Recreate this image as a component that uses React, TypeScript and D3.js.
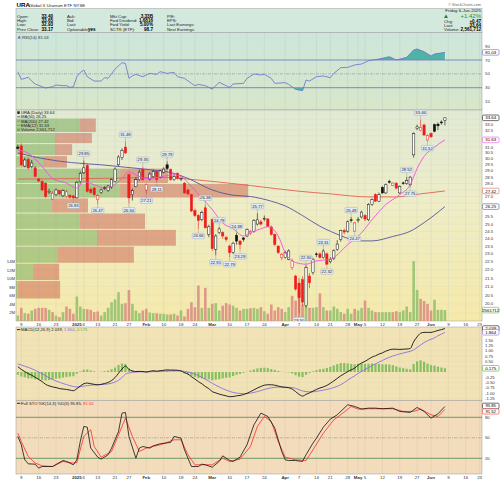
import React from "react";
import * as d3 from "d3";

const FONT = "'Liberation Sans', Arial, Helvetica, sans-serif";

// trading-day index 0 = 6 Dec 2024 ... 123 = 6 Jun 2025
const opens = [31.0, 31.1, 29.4, 29.95, 29.35, 29.25, 28.35, 28.15, 28.0, 27.3,
  26.8, 27.15, 27.45, 27.05, 27.0, 27.1, 27.05, 26.9, 28.15, 28.85,
  29.45, 27.55, 27.65, 26.76, 27.3, 27.7, 27.45, 27.7, 28.15, 29.5,
  30.1, 31.0, 28.7, 27.15, 27.75, 28.3, 29.1, 27.5, 28.35, 28.55,
  28.95, 28.5, 28.9, 29.5, 29.1, 28.3, 28.8, 28.35, 28.03, 27.5,
  27.14, 25.95, 25.6, 25.32, 26.16, 24.29, 25.32, 23.3, 24.41, 24.41,
  24.07, 23.51, 23.1, 24.22, 23.84, 24.05, 24.18, 24.35, 24.5, 25.0,
  25.15, 25.4, 25.36, 24.8, 24.29, 23.51, 22.77, 22.77, 22.66, 22.14,
  21.62, 21.2, 21.4, 19.9, 21.62, 21.83, 23.0, 23.0, 22.77, 23.0,
  22.5, 22.7, 23.3, 23.95, 24.55, 24.51, 25.3, 24.51, 25.3, 25.5,
  25.6, 25.3, 26.4, 27.14, 26.65, 27.7, 27.27, 28.15, 27.85, 28.03,
  27.27, 28.05, 28.0, 27.9, 30.33, 32.65, 32.5, 32.97, 31.62, 32.2,
  33.0, 33.05, 33.25, 33.4];
const highs = [31.2, 31.3, 30.1, 30.1, 29.9, 29.4, 28.45, 28.3, 28.1, 27.6,
  27.4, 27.6, 27.5, 27.55, 27.5, 27.15, 27.1, 28.2, 28.95, 29.85,
  29.6, 27.7, 27.75, 27.15, 27.6, 27.8, 27.9, 28.4, 29.3, 30.3,
  30.9, 31.48, 28.8, 27.6, 28.5, 29.1, 29.35, 28.0, 28.9, 29.1,
  29.0, 29.1, 29.3, 29.79, 29.2, 28.7, 28.9, 28.5, 28.1, 27.6,
  27.2, 26.1, 25.7, 25.95, 26.38, 24.95, 25.4, 24.3, 24.79, 24.5,
  24.2, 23.6, 23.8, 24.38, 23.9, 24.1, 24.7, 24.6, 25.35, 25.77,
  25.3, 25.6, 25.4, 24.9, 24.35, 23.55, 23.05, 23.2, 23.3, 22.7,
  21.7, 21.5, 21.6, 22.3, 21.8, 22.75, 23.1, 23.1, 23.31, 23.1,
  22.8, 23.3, 23.9, 24.6, 24.7, 25.25, 25.49, 25.15, 25.5, 25.95,
  25.7, 26.5, 26.85, 27.25, 27.3, 27.8, 28.0, 28.3, 28.1, 28.1,
  27.85, 28.15, 28.52, 28.6, 32.3, 33.0, 33.46, 33.1, 32.1, 32.3,
  33.1, 33.2, 33.4, 33.65];
const lows = [30.8, 29.4, 29.3, 29.1, 29.2, 28.5, 28.1, 27.4, 26.9, 27.2,
  26.75, 27.05, 27.1, 26.95, 26.9, 26.85, 26.83, 26.85, 28.0, 28.75,
  27.3, 27.2, 27.0, 26.47, 27.2, 27.5, 27.35, 27.6, 28.1, 29.4,
  29.9, 30.4, 26.5, 26.7, 27.7, 28.2, 28.2, 27.21, 28.25, 28.4,
  28.11, 28.4, 28.8, 29.1, 28.2, 28.2, 28.3, 28.2, 27.2, 27.1,
  25.85, 25.5, 24.66, 25.2, 24.7, 24.1, 23.2, 22.91, 24.3, 24.0,
  23.8, 22.79, 23.0, 23.6, 23.29, 23.8, 24.1, 24.25, 24.4, 24.9,
  24.9, 25.2, 24.8, 24.2, 23.5, 23.0, 22.6, 22.7, 22.6, 22.0,
  20.75, 19.5, 19.9, 19.8, 20.9, 21.7, 22.8, 22.7, 22.7, 22.32,
  22.4, 22.6, 23.2, 23.8, 24.3, 24.4, 25.1, 24.47, 25.1, 25.4,
  25.2, 25.2, 26.3, 26.6, 26.6, 27.2, 27.2, 28.0, 27.8, 27.55,
  27.2, 27.9, 27.9, 27.75, 30.1, 32.5, 32.4, 32.0, 31.52, 31.8,
  32.3, 32.5, 33.0, 32.93];
const closes = [30.9, 29.5, 29.9, 29.25, 29.65, 28.56, 28.2, 27.5, 27.0, 27.4,
  27.25, 27.5, 27.2, 27.45, 27.35, 26.95, 26.9, 28.1, 28.8, 29.25,
  27.4, 27.3, 27.14, 27.06, 27.5, 27.6, 27.8, 28.3, 29.15, 30.15,
  30.7, 30.5, 26.9, 27.45, 28.3, 28.9, 28.3, 27.9, 28.75, 28.95,
  28.3, 29.0, 29.15, 29.2, 28.3, 28.55, 28.4, 28.4, 27.27, 27.2,
  25.93, 25.6, 25.25, 25.82, 24.74, 24.81, 23.34, 24.18, 24.67, 24.18,
  23.95, 23.08, 23.7, 23.84, 23.62, 23.95, 24.63, 24.5, 25.25, 25.3,
  25.0, 25.4, 24.85, 24.29, 23.62, 23.08, 22.98, 23.08, 23.19, 22.55,
  20.85, 20.35, 20.1, 22.14, 21.22, 22.66, 22.95, 22.77, 23.19, 22.35,
  22.66, 23.2, 23.64, 24.56, 24.45, 25.16, 25.27, 25.08, 25.32, 25.85,
  25.35, 26.4, 26.76, 26.65, 27.14, 27.27, 27.9, 28.1, 28.03, 27.64,
  27.77, 28.0, 28.22, 28.5, 32.18, 32.8, 32.75, 32.06, 32.0, 31.9,
  32.4, 32.9, 33.17, 33.64];
// volume in millions of shares
const volumesM = [1.3, 3.1, 1.84, 1.69, 2.47, 2.86, 3.1, 3.1, 3.1, 2.63,
  2.08, 1.29, 0.9, 2.08, 3.41, 2.86, 1.69, 5.76, 3.41, 2.86,
  2.78, 2.63, 2.08, 2.24, 1.29, 2.08, 3.1, 4.43, 5.1, 6.78,
  4.04, 4.2, 7.3, 4.04, 2.47, 1.84, 2.47, 2.86, 2.0, 1.84,
  1.84, 1.69, 1.69, 1.53, 1.53, 1.69, 1.29, 2.47, 1.06, 2.86,
  4.43, 3.25, 8.35, 3.1, 7.8, 3.1, 4.04, 4.2, 2.47, 3.6,
  4.2, 3.88, 3.6, 3.1, 2.47, 2.86, 2.86, 3.0, 3.1, 2.86,
  3.25, 2.3, 1.69, 3.88, 2.47, 3.25, 2.86, 2.08, 3.25, 5.92,
  4.8, 6.78, 3.88, 4.8, 3.1, 3.1, 3.25, 6.5, 3.25, 2.47,
  2.47, 3.41, 2.86, 2.08, 1.69, 2.86, 1.69, 2.86, 2.47, 3.1,
  4.8, 3.1, 2.47, 2.08, 2.08, 2.08, 2.08, 2.08, 2.08, 2.3,
  2.08, 2.47, 3.41, 2.08, 14.1, 7.3, 5.2, 4.7, 4.04, 2.47,
  5.0, 2.63, 2.63, 2.56];

const ma50Days = [0, 5, 12, 19, 24, 31, 38, 45, 49, 56, 62, 67, 73, 77, 82, 87, 90, 93, 96, 99, 102, 108, 113, 117, 119, 123];
const ma50Values = [30.5, 30.15, 29.8, 29.6, 29.5, 29.3, 29.1, 28.8, 28.4, 27.5, 27.1, 27.0, 26.65, 26.3, 25.6, 24.85, 24.5, 24.2, 23.95, 23.85, 23.85, 24.15, 24.5, 25.1, 25.45, 26.25];
const ma200Days = [0, 24, 43, 49, 67, 81, 90, 101, 109, 116, 123];
const ma200Values = [28.35, 28.4, 28.48, 28.35, 27.84, 27.4, 27.2, 26.97, 26.97, 27.2, 27.42];
const ema12Days = [0, 3, 7, 10, 14, 17, 19, 22, 25, 27, 30, 32, 34, 37, 40, 45, 47, 50, 53, 56, 59, 62, 65, 67, 70, 72, 75, 77, 80, 83, 86, 90, 95, 99, 102, 106, 110, 113, 115, 117, 120, 123];
const ema12Values = [30.75, 30.47, 29.36, 28.39, 28.03, 27.65, 28.16, 27.9, 27.65, 27.77, 28.39, 28.94, 28.69, 28.39, 28.47, 28.69, 28.56, 27.77, 26.89, 26.03, 25.08, 24.67, 24.18, 24.41, 24.67, 24.81, 24.18, 23.08, 22.45, 22.35, 22.55, 22.66, 23.6, 24.4, 25.3, 26.4, 27.14, 27.9, 29.2, 30.2, 31.0, 31.63];

const rsiDays = [0, 1, 3, 4, 5, 7, 8, 10, 11, 13, 14, 15, 16, 17, 18, 19, 20, 22, 24, 25, 26, 28, 30, 31, 32, 33, 34, 36, 38, 40, 41, 43, 45, 46, 48, 50, 51, 52, 54, 56, 58, 61, 62, 65, 66, 68, 70, 71, 73, 74, 77, 78, 80, 82, 83, 84, 86, 88, 90, 91, 93, 95, 97, 99, 101, 104, 107, 109, 112, 114, 115, 117, 119, 120, 123];
const rsiValues = [53, 42, 45, 39.6, 35.3, 31.4, 29.5, 31.4, 33.9, 32.9, 33, 30.5, 31.4, 45.9, 52, 55.5, 45.9, 39.6, 39.6, 44.5, 43.5, 57, 66.1, 65, 43.5, 47.3, 49.3, 45.9, 50.7, 49.3, 53.1, 50.7, 52.2, 45.9, 43.5, 36.3, 32.9, 34.8, 32.9, 28.1, 37.7, 30.5, 35.3, 36.3, 43.5, 49.8, 48.4, 49.3, 43.5, 36.3, 37.3, 34.8, 27.6, 25.7, 41.1, 39.6, 45.9, 46.9, 44.5, 50.7, 58.9, 59.4, 62.8, 64.2, 69, 71.4, 74.8, 70, 73.9, 84.5, 85.9, 82, 75.8, 78.7, 81.03];

const macdValues = [0.25, 0.12, 0.02, -0.08, -0.15, -0.25, -0.35, -0.45, -0.58, -0.65,
  -0.7, -0.73, -0.78, -0.8, -0.82, -0.85, -0.88, -0.78, -0.66, -0.55,
  -0.52, -0.55, -0.58, -0.6, -0.58, -0.54, -0.49, -0.4, -0.26, -0.06,
  0.14, 0.28, 0.12, 0.05, 0.02, 0.03, 0.02, 0.0, 0.03, 0.06,
  0.04, 0.06, 0.08, 0.1, 0.09, 0.09, 0.08, 0.05, -0.03, -0.1,
  -0.22, -0.33, -0.45, -0.55, -0.68, -0.78, -0.92, -0.98, -1.04, -1.08,
  -1.12, -1.16, -1.15, -1.12, -1.1, -1.06, -1.0, -0.92, -0.84, -0.75,
  -0.68, -0.62, -0.6, -0.6, -0.62, -0.66, -0.7, -0.72, -0.74, -0.8,
  -0.92, -1.05, -1.13, -1.05, -0.98, -0.9, -0.82, -0.75, -0.7, -0.63,
  -0.53, -0.42, -0.3, -0.18, -0.08, 0.02, 0.1, 0.18, 0.32, 0.42,
  0.5, 0.6, 0.7, 0.76, 0.84, 0.9, 0.98, 1.04, 1.07, 1.07,
  1.06, 1.07, 1.08, 1.1, 1.42, 1.65, 1.82, 1.86, 1.86, 1.86,
  1.9, 1.95, 1.99, 2.039];
const signalValues = [0.38, 0.33, 0.27, 0.22, 0.15, 0.09, 0.0, -0.08, -0.18, -0.27,
  -0.35, -0.42, -0.48, -0.54, -0.59, -0.64, -0.68, -0.7, -0.69, -0.66,
  -0.64, -0.62, -0.61, -0.6, -0.59, -0.58, -0.56, -0.53, -0.47, -0.39,
  -0.26, -0.1, -0.05, -0.02, 0.0, 0.01, 0.01, 0.01, 0.01, 0.02,
  0.02, 0.03, 0.04, 0.05, 0.06, 0.06, 0.06, 0.05, 0.03, 0.0,
  -0.04, -0.1, -0.17, -0.25, -0.34, -0.43, -0.53, -0.62, -0.7, -0.78,
  -0.85, -0.91, -0.96, -0.99, -1.01, -1.02, -1.01, -0.99, -0.96, -0.92,
  -0.87, -0.82, -0.78, -0.74, -0.72, -0.71, -0.71, -0.71, -0.72, -0.73,
  -0.77, -0.83, -0.89, -0.92, -0.93, -0.93, -0.91, -0.88, -0.85, -0.82,
  -0.78, -0.73, -0.67, -0.6, -0.5, -0.38, -0.28, -0.18, -0.07, 0.03,
  0.12, 0.21, 0.3, 0.38, 0.46, 0.54, 0.62, 0.69, 0.75, 0.8,
  0.85, 0.89, 0.93, 0.97, 1.04, 1.15, 1.27, 1.38, 1.47, 1.54,
  1.6, 1.7, 1.78, 1.864];

const stochKDays = [0, 1, 2, 3, 5, 6, 7, 10, 13, 14, 16, 17, 18, 19, 20, 21, 23, 24, 26, 27, 29, 30, 31, 32, 34, 35, 36, 38, 39, 41, 44, 45, 47, 48, 50, 52, 53, 54, 56, 58, 59, 61, 62, 64, 66, 68, 70, 72, 74, 76, 77, 78, 80, 82, 83, 85, 86, 88, 90, 92, 95, 97, 99, 101, 103, 105, 108, 110, 113, 115, 117, 119, 121, 123];
const stochKValues = [52, 39.8, 17.8, 11.9, 11.4, 5.6, 8, 8, 16.8, 15.4, 10.5, 17.8, 45, 66.6, 65.6, 34.9, 21.7, 18.8, 25.1, 34.9, 59.3, 86.1, 87.1, 52, 20.2, 34.9, 37.3, 34.9, 38.3, 41.2, 43.2, 52, 49.5, 32.4, 8, 8, 11.4, 10.5, 7, 15.4, 23.6, 16.8, 15.4, 21.7, 39.8, 69, 86.1, 81.2, 64.2, 30, 17.8, 16.8, 16.8, 15.4, 25.1, 42.2, 49.5, 65.6, 77.3, 83.7, 98.3, 95.9, 92, 93.4, 93.4, 92.5, 93.4, 88.6, 87.1, 94.4, 88.6, 78.8, 85.1, 95.85];
const stochDDays = [0, 1, 3, 5, 7, 10, 13, 16, 17, 19, 21, 22, 24, 27, 29, 31, 33, 35, 37, 41, 45, 47, 49, 51, 56, 59, 61, 64, 67, 69, 71, 73, 75, 77, 80, 83, 85, 88, 91, 93, 96, 98, 101, 108, 111, 114, 116, 119, 121, 123];
const stochDValues = [56.8, 44.6, 22.7, 13, 9, 8, 15.4, 13, 13.9, 52, 61.7, 37.3, 21.7, 30, 54.4, 78.8, 52, 30, 34.9, 39.8, 47.1, 47.1, 25.1, 10.5, 10.5, 20.2, 15.4, 18.8, 37.3, 66.6, 81.2, 73.9, 44.6, 21.7, 17.8, 16.8, 32.4, 56.8, 76.3, 83.7, 95.9, 92, 92.5, 92.5, 88.6, 88.6, 92, 83.7, 81.2, 91.52];

// volume-by-price zones (price edges) with up / down volume (millions)
const vbpEdges = [33.62, 32.29, 31.3, 30.27, 29.23, 28.0, 26.89, 25.78, 24.63, 23.5, 22.41, 21.35, 20.28];
const vbpUpM = [21.3, 13, 13, 9, 34.7, 34.7, 12, 21.3, 27, 14, 5.7, 0.7];
const vbpDownM = [5.3, 12.3, 5.7, 8, 16, 42.7, 12, 21.7, 26.3, 25.3, 8.7, 14];

const annotDays = [16, 19, 23, 31, 32, 36, 37, 40, 43, 52, 54, 57, 58, 61, 63, 64, 69, 81, 83, 88, 89, 96, 97, 112, 113, 116, 118];
const annotValues = [26.83, 29.85, 26.47, 31.48, 26.5, 29.35, 27.21, 28.11, 29.79, 24.66, 26.38, 22.91, 24.79, 22.79, 24.38, 23.29, 25.77, 19.5, 22.3, 23.31, 22.32, 25.49, 24.47, 28.52, 27.75, 33.46, 31.52];
const annotKinds = ["L", "H", "L", "H", "L", "H", "L", "L", "H", "L", "H", "L", "H", "L", "H", "L", "H", "L", "H", "H", "L", "H", "L", "H", "L", "H", "L"];

const tickDays = [1, 6, 11, 17, 19, 23, 28, 32, 37, 42, 47, 51, 56, 61, 66, 71, 77, 81, 86, 90, 95, 98, 100, 105, 110, 115, 119, 124, 129, 133];
const tickLabels = ["9", "16", "23", "2025", "6", "13", "21", "27", "Feb", "10", "18", "24", "Mar", "10", "17", "24", "Apr", "7", "14", "21", "28", "May", "5", "12", "19", "27", "Jun", "9", "16", "23"];
const boldTicks = ["2025", "Feb", "Mar", "Apr", "May", "Jun"];

const priceTicks = [19.5, 20, 20.5, 21, 21.5, 22, 22.5, 23, 23.5, 24, 24.5, 25, 25.5, 26, 26.5, 27, 27.5, 28, 28.5, 29, 29.5, 30, 30.5, 31, 31.5, 32, 32.5, 33, 33.5, 34];
const volTicks = [2, 4, 6, 8, 10, 12, 14];
const rsiTicks = [90, 70, 50, 30, 10];
const macdTicks = [-1.25, -1, -0.75, -0.5, -0.25, 0, 0.25, 0.5, 0.75, 1, 1.25, 1.5];
const stochTicks = [80, 50, 20];

const L = 16, R = 482;
const P = {
  head: [8.5, 32.5], rsi: [32.5, 110], main: [110, 321], macd: [327, 400.5], sto: [400.5, 474],
};

export default function App() {
  const x = d3.scaleLinear().domain([0, 123]).range([17.83, 444.9]);
  const py = d3.scaleLog().domain([34, 19.5]).range([114, 313]);
  const vy = d3.scaleLinear().domain([0, 14]).range([321, 261.5]);
  const ry = d3.scaleLinear().domain([30, 70]).range([87.7, 60]);
  const my = d3.scaleLinear().domain([0, 1]).range([372, 350.7]);
  const sy = d3.scaleLinear().domain([20, 80]).range([458.3, 417.3]);
  const vbpX = d3.scaleLinear().domain([0, 80]).range([L, L + 240]);

  const idx = d3.range(closes.length);
  const lineOf = (days: number[], vals: number[], ys: (v: number) => number, curve: any = d3.curveMonotoneX) =>
    d3.line<number>().x((_, i) => x(days[i])).y((_, i) => ys(vals[i])).curve(curve)(vals) || "";

  const rsiLine = lineOf(rsiDays, rsiValues, ry, d3.curveLinear);
  const rsiAreaHi = d3.area<number>().x((_, i) => x(rsiDays[i])).y0(ry(70)).y1((v) => ry(v))(rsiValues) || "";
  const rsiAreaLo = d3.area<number>().x((_, i) => x(rsiDays[i])).y0(ry(30)).y1((v) => ry(v))(rsiValues) || "";

  const gridX = tickDays.map((d) => x(d)).filter((v) => v > L && v < R);

  const txt = (props: any, s: React.ReactNode) => (
    <text fontFamily={FONT} {...props}>{s}</text>
  );

  const tag = (y: number, label: string, color: string, key: string) => (
    <g key={key}>
      <rect x={482.5} y={y - 2.8} width={16.5} height={5.6} rx={1.2} fill="#fff" stroke={color} strokeWidth={0.6} />
      {txt({ x: 490.7, y: y + 1.6, fontSize: 4.4, textAnchor: "middle", fill: "#000" }, label)}
    </g>
  );
  const clear = (y: number, tagYs: number[]) => tagYs.every((t) => Math.abs(t - y) > 5);

  const panel = (key: string, y0: number, y1: number, fill: string) => (
    <rect key={key} x={L} y={y0} width={R - L} height={y1 - y0} fill={fill} stroke="#9a9a9a" strokeWidth={0.5} />
  );

  const vgrid = (y0: number, y1: number, color: string) =>
    gridX.map((gx, i) => <line key={i} x1={gx} x2={gx} y1={y0} y2={y1} stroke={color} strokeWidth={0.5} />);

  const mainTags = [py(33.64), py(31.63), py(27.42), py(26.25), vy(2.56)];
  const macdTags = [my(2.039), my(1.864), my(0.175)];
  const stoTags = [sy(95.85) - 0.5, sy(91.52) + 1.5];

  return (
    <svg width={500} height={481} style={{ position: "absolute", left: 0, top: 0, background: "#fff" }}>
      <defs>
        <linearGradient id="gMain" x1="0" y1="0" x2="0" y2="1">
          <stop offset="0" stopColor="#e1ead6" />
          <stop offset="0.45" stopColor="#eeedc6" />
          <stop offset="1" stopColor="#f6e9a9" />
        </linearGradient>
        <linearGradient id="gRsi" x1="0" y1="0" x2="0" y2="1">
          <stop offset="0" stopColor="#cde6db" />
          <stop offset="1" stopColor="#d9e6c9" />
        </linearGradient>
        <clipPath id="cMain"><rect x={L} y={P.main[0]} width={R - L} height={P.main[1] - P.main[0]} /></clipPath>
        <clipPath id="cRsiHi"><rect x={L} y={P.rsi[0]} width={R - L} height={ry(70) - P.rsi[0]} /></clipPath>
        <clipPath id="cRsiLo"><rect x={L} y={ry(30)} width={R - L} height={P.rsi[1] - ry(30)} /></clipPath>
        <clipPath id="cRsi"><rect x={L} y={P.rsi[0]} width={R - L} height={P.rsi[1] - P.rsi[0]} /></clipPath>
        <clipPath id="cMacd"><rect x={L} y={P.macd[0]} width={R - L} height={P.macd[1] - P.macd[0]} /></clipPath>
        <clipPath id="cSto"><rect x={L} y={P.sto[0]} width={R - L} height={P.sto[1] - P.sto[0]} /></clipPath>
      </defs>

      {/* title */}
      {txt({ x: 16.5, y: 7, fontSize: 6.2, fontWeight: "bold", fill: "#000" }, "URA")}
      {txt({ x: 29, y: 7, fontSize: 4.3, fill: "#222" }, "Global X Uranium ETF  NYSE")}
      {txt({ x: 481, y: 5.5, fontSize: 3.8, fill: "#666", textAnchor: "end" }, "© StockCharts.com")}

      {/* header */}
      {panel("h", P.head[0], P.head[1], "#d3e9de")}
      {[["Open:", "33.40"], ["High:", "33.65"], ["Low:", "32.93"], ["Prev Close:", "33.17"]].map((r, i) => (
        <g key={"c1" + i}>
          {txt({ x: 17, y: 17.6 + i * 4.3, fontSize: 4.3, fill: "#222" }, r[0])}
          {txt({ x: 53, y: 17.6 + i * 4.3, fontSize: 4.6, fontWeight: "bold", fill: "#000", textAnchor: "end" }, r[1])}
        </g>
      ))}
      {["Ask:", "Bid:", "Last:", "Optionable:"].map((s, i) => (
        <g key={"c2" + i}>{txt({ x: 67, y: 17.6 + i * 4.3, fontSize: 4.3, fill: "#222" }, s)}</g>
      ))}
      {txt({ x: 88, y: 30.5, fontSize: 4.6, fontWeight: "bold", fill: "#000" }, "yes")}
      {[["Mkt Cap:", "3.33B"], ["Fwd Dividend:", "1.6816"], ["Fwd Yield:", "5.00%"], ["SCTR (ETF):", "98.7"]].map((r, i) => (
        <g key={"c3" + i}>
          {txt({ x: 110, y: 17.6 + i * 4.3, fontSize: 4.3, fill: "#222" }, r[0])}
          {txt({ x: 153, y: 17.6 + i * 4.3, fontSize: 4.6, fontWeight: "bold", fill: "#000", textAnchor: "end" }, r[1])}
        </g>
      ))}
      {["P/E:", "EPS:", "Last Earnings:", "Next Earnings:"].map((s, i) => (
        <g key={"c4" + i}>{txt({ x: 167, y: 17.6 + i * 4.3, fontSize: 4.3, fill: "#222" }, s)}</g>
      ))}
      {txt({ x: 481, y: 12, fontSize: 4.4, fill: "#222", textAnchor: "end" }, "Friday  6-Jun-2025")}
      <path d="M444,18 L446,14.5 L448,18 Z" fill="#2e7d32" />
      {txt({ x: 481, y: 18, fontSize: 6, fill: "#2e8b2e", textAnchor: "end" }, "+1.42%")}
      {[["Chg:", "+0.47"], ["Last:", "33.64"], ["Volume:", "2,561,712"]].map((r, i) => (
        <g key={"rc" + i}>
          {txt({ x: 444, y: 22.5 + i * 4.4, fontSize: 4.3, fill: "#222" }, r[0])}
          {txt({ x: 481, y: 22.5 + i * 4.4, fontSize: 4.6, fontWeight: "bold", fill: "#000", textAnchor: "end" }, r[1])}
        </g>
      ))}

      {/* RSI panel */}
      {panel("rsi", P.rsi[0], P.rsi[1], "url(#gRsi)")}
      <g clipPath="url(#cRsi)">
        {vgrid(P.rsi[0], P.rsi[1], "#b9d3c6")}
        <line x1={L} x2={R} y1={ry(70)} y2={ry(70)} stroke="#6f72c4" strokeWidth={0.8} />
        <line x1={L} x2={R} y1={ry(30)} y2={ry(30)} stroke="#6f72c4" strokeWidth={0.8} />
        <line x1={L} x2={R} y1={ry(50)} y2={ry(50)} stroke="#8a8fb8" strokeWidth={0.6} strokeDasharray="3,1,1,1" />
        <path d={rsiAreaHi} fill="#3aa99f" opacity={0.85} clipPath="url(#cRsiHi)" />
        <path d={rsiAreaLo} fill="#3aa99f" opacity={0.85} clipPath="url(#cRsiLo)" />
        <path d={rsiLine} fill="none" stroke="#6a6cd0" strokeWidth={0.8} />
      </g>
      <path d="M17.5,38.5 L19.2,35.5 L20.9,38.5 Z" fill="#5b6fd0" />
      {txt({ x: 22, y: 38.6, fontSize: 4.3, fill: "#333" }, "RSI(14) 81.03")}
      {rsiTicks.filter((t) => clear(ry(t), [ry(81.03)])).map((t) => <g key={"rt" + t}>{txt({ x: 485, y: ry(t) + 1.5, fontSize: 4.3, fill: "#333" }, String(t))}</g>)}
      {tag(ry(81.03), "81.03", "#6a6cd0", "rtag")}

      {/* Main panel */}
      {panel("main", P.main[0], P.main[1], "url(#gMain)")}
      <g clipPath="url(#cMain)">
        {vgrid(P.main[0], P.main[1], "#d2d6bf")}
        {priceTicks.map((t) => <line key={"pg" + t} x1={L} x2={R} y1={py(t)} y2={py(t)} stroke="#dfdcc2" strokeWidth={0.4} />)}
        {vbpUpM.map((u, i) => {
          const y0 = py(vbpEdges[i]) + 0.5, y1 = py(vbpEdges[i + 1]) - 0.5;
          return (
            <g key={"vbp" + i}>
              <rect x={vbpX(0)} y={y0} width={vbpX(u) - vbpX(0)} height={y1 - y0} fill="#6fa84f" opacity={0.5} />
              <rect x={vbpX(u)} y={y0} width={vbpX(u + vbpDownM[i]) - vbpX(u)} height={y1 - y0} fill="#c8503f" opacity={0.45} />
            </g>
          );
        })}
        {idx.map((j) => {
          const up = j === 0 || closes[j] >= closes[j - 1];
          return <rect key={"v" + j} x={x(j) - 1.3} y={vy(volumesM[j])} width={2.6} height={vy(0) - vy(volumesM[j])}
            fill={up ? "#8fbf6c" : "#d98a82"} opacity={0.85} />;
        })}
        <path d={lineOf(ma200Days, ma200Values, py)} fill="none" stroke="#e0634f" strokeWidth={0.9} />
        <path d={lineOf(ma50Days, ma50Values, py)} fill="none" stroke="#55559c" strokeWidth={0.9} />
        {idx.map((j) => {
          const o = opens[j], c = closes[j];
          const col = j === 0 || c >= closes[j - 1] ? "#111" : "#ee1c1c";
          const hollow = c >= o;
          const top = py(Math.max(o, c)), bot = py(Math.min(o, c));
          return (
            <g key={"c" + j}>
              <line x1={x(j)} x2={x(j)} y1={py(highs[j])} y2={py(lows[j])} stroke={col} strokeWidth={0.6} />
              <rect x={x(j) - 1.15} y={top} width={2.3} height={Math.max(0.7, bot - top)}
                fill={hollow ? "#fff" : col} stroke={col} strokeWidth={0.5} />
            </g>
          );
        })}
        <path d={lineOf(ema12Days, ema12Values, py)} fill="none" stroke="#f04fe0" strokeWidth={0.9} />
        {annotDays.map((d, i) => {
          const isH = annotKinds[i] === "H";
          const yP = py(annotValues[i]);
          const by = isH ? yP - 7 : yP + 7;
          const bx = x(d);
          return (
            <g key={"a" + i}>
              <line x1={bx} x2={bx} y1={yP} y2={isH ? by + 2.7 : by - 2.7} stroke="#7d8a9a" strokeWidth={0.4} />
              <rect x={bx - 6.2} y={by - 2.7} width={12.4} height={5.4} rx={1.2} fill="#e3ecf4" stroke="#8ea0b6" strokeWidth={0.4} />
              {txt({ x: bx, y: by + 1.5, fontSize: 4.2, fill: "#222", textAnchor: "middle" }, annotValues[i].toFixed(2))}
            </g>
          );
        })}
      </g>
      {/* main legend */}
      <rect x={17.3} y={111.3} width={2.4} height={2.6} fill="#222" />
      {txt({ x: 21, y: 114, fontSize: 4.2, fill: "#222" }, "URA (Daily) 33.64")}
      <line x1={17} x2={20.3} y1={116.8} y2={116.8} stroke="#55559c" strokeWidth={0.9} />
      {txt({ x: 21, y: 118.3, fontSize: 4.2, fill: "#222" }, "MA(50) 26.25")}
      <line x1={17} x2={20.3} y1={121.1} y2={121.1} stroke="#e0634f" strokeWidth={0.9} />
      {txt({ x: 21, y: 122.6, fontSize: 4.2, fill: "#222" }, "MA(200) 27.42")}
      <line x1={17} x2={20.3} y1={125.4} y2={125.4} stroke="#f04fe0" strokeWidth={0.9} />
      {txt({ x: 21, y: 126.9, fontSize: 4.2, fill: "#222" }, "EMA(12) 31.63")}
      <rect x={17.3} y={128.5} width={2.6} height={2.6} fill="#6fa84f" />
      {txt({ x: 21, y: 131.2, fontSize: 4.2, fill: "#222" }, "Volume 2,561,712")}
      {priceTicks.filter((t) => clear(py(t), mainTags)).map((t) => <g key={"pt" + t}>{txt({ x: 485, y: py(t) + 1.5, fontSize: 4.2, fill: "#333" }, t.toFixed(1))}</g>)}
      {volTicks.map((t) => <g key={"vt" + t}>{txt({ x: 15, y: vy(t) + 1.5, fontSize: 4.2, fill: "#333", textAnchor: "end" }, t + "M")}</g>)}
      {tag(mainTags[0], "33.64", "#111", "t1")}
      {tag(mainTags[1], "31.63", "#f04fe0", "t2")}
      {tag(mainTags[2], "27.42", "#e0634f", "t3")}
      {tag(mainTags[3], "26.25", "#55559c", "t4")}
      {tag(mainTags[4], "2561712", "#6fa84f", "t5")}

      {/* x labels between main and macd */}
      {tickDays.map((d, i) => (
        <g key={"xl" + i}>{txt({ x: x(d), y: 325.8, fontSize: 4.4, fill: "#333", textAnchor: "middle", fontWeight: boldTicks.includes(tickLabels[i]) ? "bold" : "normal" }, tickLabels[i])}</g>
      ))}

      {/* MACD panel */}
      {panel("macd", P.macd[0], P.macd[1], "#f2e3b7")}
      <g clipPath="url(#cMacd)">
        {vgrid(P.macd[0], P.macd[1], "#ddd0a6")}
        {macdTicks.map((t) => <line key={"mg" + t} x1={L} x2={R} y1={my(t)} y2={my(t)} stroke="#e3d6ae" strokeWidth={0.4} />)}
        {idx.map((j) => {
          const h = macdValues[j] - signalValues[j];
          return <rect key={"h" + j} x={x(j) - 1.1} y={Math.min(my(h), my(0))} width={2.2} height={Math.abs(my(h) - my(0))} fill="#86bf5f" />;
        })}
        <path d={lineOf(idx, signalValues, my)} fill="none" stroke="#8a6fe0" strokeWidth={0.9} />
        <path d={lineOf(idx, macdValues, my)} fill="none" stroke="#111" strokeWidth={0.9} />
      </g>
      <line x1={17} x2={20.3} y1={329.6} y2={329.6} stroke="#111" strokeWidth={0.9} />
      <text fontFamily={FONT} x={21} y={331} fontSize={4.2} fill="#222">
        MACD(12,26,9) 2.039, <tspan fill="#8a6fe0">1.864</tspan>, <tspan fill="#5aa83a">0.175</tspan>
      </text>
      {macdTicks.filter((t) => clear(my(t), macdTags)).map((t) => <g key={"mt" + t}>{txt({ x: 485, y: my(t) + 1.5, fontSize: 4.2, fill: "#333" }, t.toFixed(2))}</g>)}
      {tag(macdTags[0], "2.039", "#111", "m1")}
      {tag(macdTags[1], "1.864", "#8a6fe0", "m2")}
      {tag(macdTags[2], "0.175", "#5aa83a", "m3")}

      {/* Stochastics panel */}
      {panel("sto", P.sto[0], P.sto[1], "#f2dcbc")}
      <g clipPath="url(#cSto)">
        {vgrid(P.sto[0], P.sto[1], "#dec8a6")}
        <line x1={L} x2={R} y1={sy(80)} y2={sy(80)} stroke="#4f8a4f" strokeWidth={0.8} />
        <line x1={L} x2={R} y1={sy(20)} y2={sy(20)} stroke="#4f8a4f" strokeWidth={0.8} />
        <line x1={L} x2={R} y1={sy(50)} y2={sy(50)} stroke="#8f9a88" strokeWidth={0.6} strokeDasharray="3,1,1,1" />
        <path d={lineOf(stochDDays, stochDValues, sy, d3.curveLinear)} fill="none" stroke="#ff2a2a" strokeWidth={0.8} />
        <path d={lineOf(stochKDays, stochKValues, sy, d3.curveLinear)} fill="none" stroke="#111" strokeWidth={0.8} />
      </g>
      <line x1={17} x2={20.3} y1={403.3} y2={403.3} stroke="#111" strokeWidth={0.9} />
      <text fontFamily={FONT} x={21} y={404.7} fontSize={4.2} fill="#222">
        Full STO %K(14,3) %D(3) 95.85, <tspan fill="#ff2a2a">91.52</tspan>
      </text>
      {stochTicks.filter((t) => clear(sy(t), stoTags)).map((t) => <g key={"st" + t}>{txt({ x: 485, y: sy(t) + 1.5, fontSize: 4.2, fill: "#333" }, String(t))}</g>)}
      <g>
        <rect x={482.5} y={stoTags[0] - 2.8} width={16.5} height={5.6} rx={1.2} fill="#fff" stroke="#111" strokeWidth={0.6} />
        {txt({ x: 490.7, y: stoTags[0] + 1.2, fontSize: 4.2, textAnchor: "middle", fill: "#000" }, "95.85")}
      </g>
      <g>
        <rect x={482.5} y={stoTags[0] + 2.9} width={16.5} height={5.2} rx={1.2} fill="#fff" stroke="#ff2a2a" strokeWidth={0.6} />
        {txt({ x: 490.7, y: stoTags[0] + 6.8, fontSize: 4.2, textAnchor: "middle", fill: "#000" }, "91.52")}
      </g>

      {/* bottom x labels */}
      {tickDays.map((d, i) => (
        <g key={"xb" + i}>{txt({ x: x(d), y: 478.5, fontSize: 4.4, fill: "#333", textAnchor: "middle", fontWeight: boldTicks.includes(tickLabels[i]) ? "bold" : "normal" }, tickLabels[i])}</g>
      ))}
    </svg>
  );
}
